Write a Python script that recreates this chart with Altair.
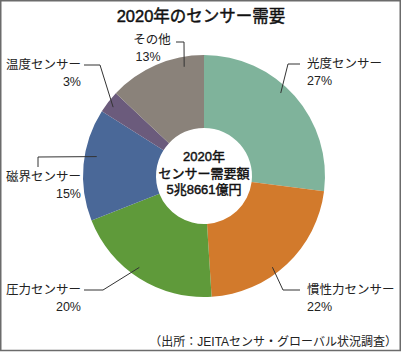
import math
import altair as alt
import pandas as pd

# ---- data ----
names = ["光度センサー", "慣性力センサー", "圧力センサー", "磁界センサー", "温度センサー", "その他"]
shares = [27, 22, 20, 15, 3, 13]
colors = ["#7fb39b", "#d27a2c", "#5f9a3a", "#4a6898", "#6b5b7c", "#8a827a"]
title_text = "2020年のセンサー需要"
center_lines = ["2020年", "センサー需要額", "5兆8661億円"]
source_text = "（出所：JEITAセンサ・グローバル状況調査）"

# ---- layout (annotation placement only) ----
W, H = 402, 352
CX, CY = 204, 176
R_OUT, R_IN = 121, 48
FONT = "Liberation Sans, Noto Sans CJK JP"
# name: (align, text_x, name_y, pct_y, pct_x, elbow, end, frac_in_segment, radius)
layout = {
    "光度センサー": ("left", 307, 64, 81, 307, (288, 64), (300, 64), 0.44, 113),
    "慣性力センサー": ("left", 307, 290, 307, 307, (283, 290), (300, 290), 0.58, 114),
    "圧力センサー": ("right", 81, 290, 307, 81, (103, 290), (84, 290), 0.54, 112),
    "磁界センサー": ("right", 81, 177, 194, 81, (38, 157), (38, 167), 0.59, 109),
    "温度センサー": ("right", 81, 65, 82, 81, (100, 65), (84, 65), 0.44, 114),
    "その他": ("center", 152, 40, 57, 148, (184, 42), (176, 42), 0.78, 111),
}

df = pd.DataFrame({"name": names, "value": shares, "idx": list(range(len(names)))})

total = sum(shares)
line_rows, text_rows = [], []
cum = 0
for n, v in zip(names, shares):
    align, tx, ny, py, px, elbow, end, frac, r = layout[n]
    ang = 2 * math.pi * (cum + frac * v) / total
    sx, sy = CX + r * math.sin(ang), CY - r * math.cos(ang)
    for k, (x, y) in enumerate([(sx, sy), elbow, end]):
        line_rows.append({"label": n, "k": k, "x": x, "y": y})
    text_rows.append({"t": n, "x": tx, "y": ny, "align": align})
    text_rows.append({"t": f"{v}%", "x": px, "y": py, "align": align})
    cum += v
lines_df = pd.DataFrame(line_rows)
texts_df = pd.DataFrame(text_rows)

X = lambda: alt.X("x:Q", scale=None, axis=None)
Y = lambda: alt.Y("y:Q", scale=None, axis=None)

frame = alt.Chart(pd.DataFrame({"a": [0]})).mark_rect(
    fill="white", stroke="#6b6b6b", strokeWidth=1.5
).encode(x=alt.value(0.75), x2=alt.value(400.25), y=alt.value(0.75), y2=alt.value(350.5))

arcs = alt.Chart(df).mark_arc(outerRadius=R_OUT, innerRadius=R_IN).encode(
    theta=alt.Theta("value:Q", stack=True),
    color=alt.Color("name:N", scale=alt.Scale(domain=names, range=colors), legend=None),
    order=alt.Order("idx:Q"),
    x=alt.value(CX),
    y=alt.value(CY),
)

leaders = alt.Chart(lines_df).mark_line(color="#333333", strokeWidth=1).encode(
    x=X(), y=Y(), detail="label:N", order="k:Q"
)

text_layers = []
for al in ["left", "right", "center"]:
    sub = texts_df[texts_df["align"] == al]
    text_layers.append(
        alt.Chart(sub).mark_text(
            align=al, baseline="middle", font=FONT, fontSize=12.5, color="#222222"
        ).encode(x=X(), y=Y(), text="t:N")
    )

title_df = pd.DataFrame({"t": [title_text], "x": [201], "y": [17]})
title = alt.Chart(title_df).mark_text(
    align="center", baseline="middle", font=FONT, fontSize=16.5, color="#111111",
    stroke="#111111", strokeWidth=0.45
).encode(x=X(), y=Y(), text="t:N")

center_df = pd.DataFrame({"t": center_lines, "x": [CX] * 3, "y": [157, 173.5, 190]})
center = alt.Chart(center_df).mark_text(
    align="center", baseline="middle", font=FONT, fontSize=13, color="#111111",
    stroke="#111111", strokeWidth=0.45
).encode(x=X(), y=Y(), text="t:N")

source_df = pd.DataFrame({"t": [source_text], "x": [397], "y": [342]})
source = alt.Chart(source_df).mark_text(
    align="right", baseline="middle", font=FONT, fontSize=12, color="#222222"
).encode(x=X(), y=Y(), text="t:N")

chart = alt.layer(frame, arcs, leaders, *text_layers, title, center, source).properties(
    width=W, height=H, padding=0, autosize=alt.AutoSizeParams(type="none"), background="white"
).configure_view(stroke=None)

chart.save("out.html", embed_options={"renderer": "svg", "actions": False})
